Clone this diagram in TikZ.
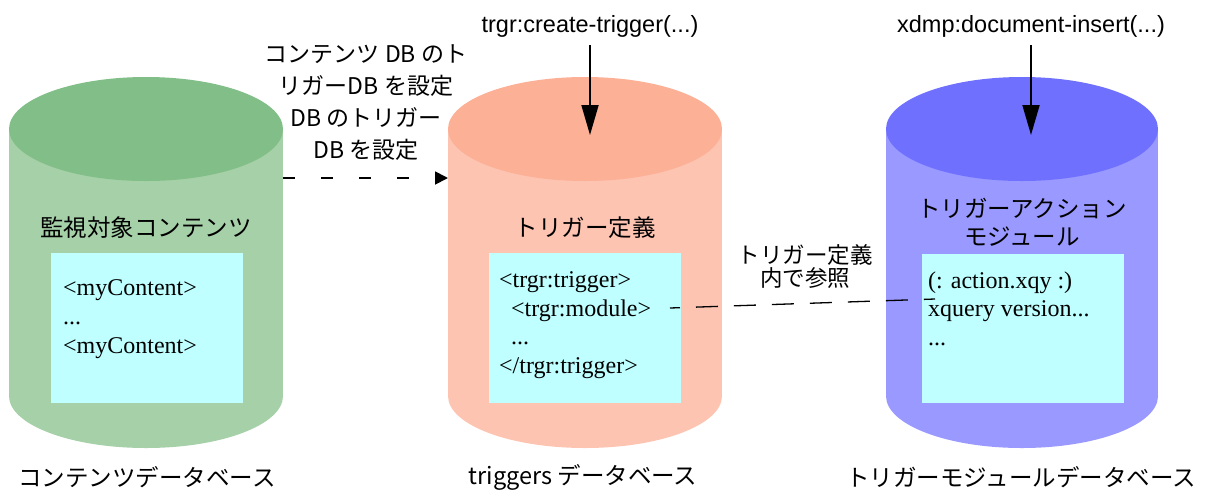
\documentclass[tikz,border=0pt]{standalone}
\usepackage{fontspec}
\setmainfont{Liberation Sans}
\newfontfamily\cjk{Noto Sans CJK JP}
\newfontfamily\tms{Liberation Serif}
\usetikzlibrary{arrows.meta}
\definecolor{gTop}{HTML}{82BE87}
\definecolor{gBody}{HTML}{A6D0A8}
\definecolor{sTop}{HTML}{FCB096}
\definecolor{sBody}{HTML}{FDC4B2}
\definecolor{bTop}{HTML}{7070FF}
\definecolor{bBody}{HTML}{9999FF}
\definecolor{inner}{HTML}{BFFFFF}
\tikzset{
  jp/.style={font=\cjk\fontsize{23.5}{28}\selectfont, inner sep=0pt, align=center},
  lat/.style={font=\fontsize{23.5}{28}\selectfont, inner sep=0pt, anchor=base},
  code/.style={font=\tms\fontsize{24}{29}\selectfont, inner sep=0pt, anchor=base west},
  innerbox/.style={fill=inner, draw=none, inner sep=0pt, anchor=north west},
  callarrow/.style={line width=1.8pt, -{Triangle[length=30pt,width=17pt]}},
  setarrow/.style={line width=1.8pt, dash pattern=on 12pt off 26pt, -{Triangle[length=13pt,width=13pt]}},
  refline/.style={line width=1.3pt, dash pattern=on 22pt off 16pt, dash phase=12pt}
}
\begin{document}
\begin{tikzpicture}[x=1pt,y=-1pt]
\useasboundingbox (0,0) rectangle (1210,491);
% cylinders
\fill[gBody] (146,396) ellipse [x radius=137pt, y radius=52pt];
\fill[gBody] (9,129) rectangle (283,396);
\fill[gTop] (146,129) ellipse [x radius=137pt, y radius=52pt];
\fill[sBody] (585,396) ellipse [x radius=137pt, y radius=52pt];
\fill[sBody] (448,129) rectangle (722,396);
\fill[sTop] (585,129) ellipse [x radius=137pt, y radius=52pt];
\fill[bBody] (1022,396) ellipse [x radius=136pt, y radius=52pt];
\fill[bBody] (886,129) rectangle (1158,396);
\fill[bTop] (1022,129) ellipse [x radius=136pt, y radius=52pt];
\coordinate (gRight) at (283,178);
\coordinate (sLeft) at (448,178);
% inner boxes
\node[innerbox, minimum width=192pt, minimum height=150pt] (gbox) at (51,253) {};
\node[innerbox, minimum width=192pt, minimum height=150pt] (sbox) at (489,253) {};
\node[innerbox, minimum width=202pt, minimum height=149pt] (bbox) at (922,254) {};
% cylinder titles
\node[jp] (gTitle) at (146,228) {監視対象コンテンツ};
\node[jp] (sTitle) at (585,228) {トリガー定義};
\node[jp, font=\cjk\fontsize{23.5}{27.5}\selectfont] (bTitle) at (1022,222) {トリガーアクション\\モジュール};
% inner text
\node[code] (g1) at (63,295) {<myContent>};
\node[code] (g2) at (63,324) {...};
\node[code] (g3) at (63,353) {<myContent>};
\node[code] (s1) at (499,287) {<trgr:trigger>};
\node[code] (s2) at (511,316) {<trgr:module>};
\node[code] (s3) at (511,344) {...};
\node[code] (s4) at (499,373) {</trgr:trigger>};
\node[code] (b1) at (928,288) {(: action.xqy :)};
\node[code] (b2) at (928,316) {xquery version...};
\node[code] (b3) at (928,345) {...};
% top calls
\node[lat] (ct) at (590,32) {trgr:create-trigger(...)};
\node[lat] (di) at (1031,32) {xdmp:document-insert(...)};
\coordinate (ctEnd) at (590,135);
\coordinate (diEnd) at (1031,135);
\draw[callarrow] (590,45) -- (ctEnd);
\draw[callarrow] (1031,45) -- (diEnd);
% set trigger db
\node[jp, font=\cjk\fontsize{23}{32}\selectfont] (setLbl) at (366,103) {コンテンツ DB のト\\リガーDB を設定\\DB のトリガー\\DB を設定};
\draw[setarrow] (gRight) -- (sLeft);
% reference
\coordinate (refStart) at (670,308);
\coordinate (refEnd) at (935,299);
\draw[refline] (refStart) -- (refEnd);
\node[jp, font=\cjk\fontsize{22.5}{23}\selectfont] (refLbl) at (805,266) {トリガー定義\\内で参照};
% bottom labels
\node[jp] (gDb) at (147,477) {コンテンツデータベース};
\node[jp] (sDb) at (583,477) {triggers データベース};
\node[jp] (bDb) at (1021,477) {トリガーモジュールデータベース};
\end{tikzpicture}
\end{document}
